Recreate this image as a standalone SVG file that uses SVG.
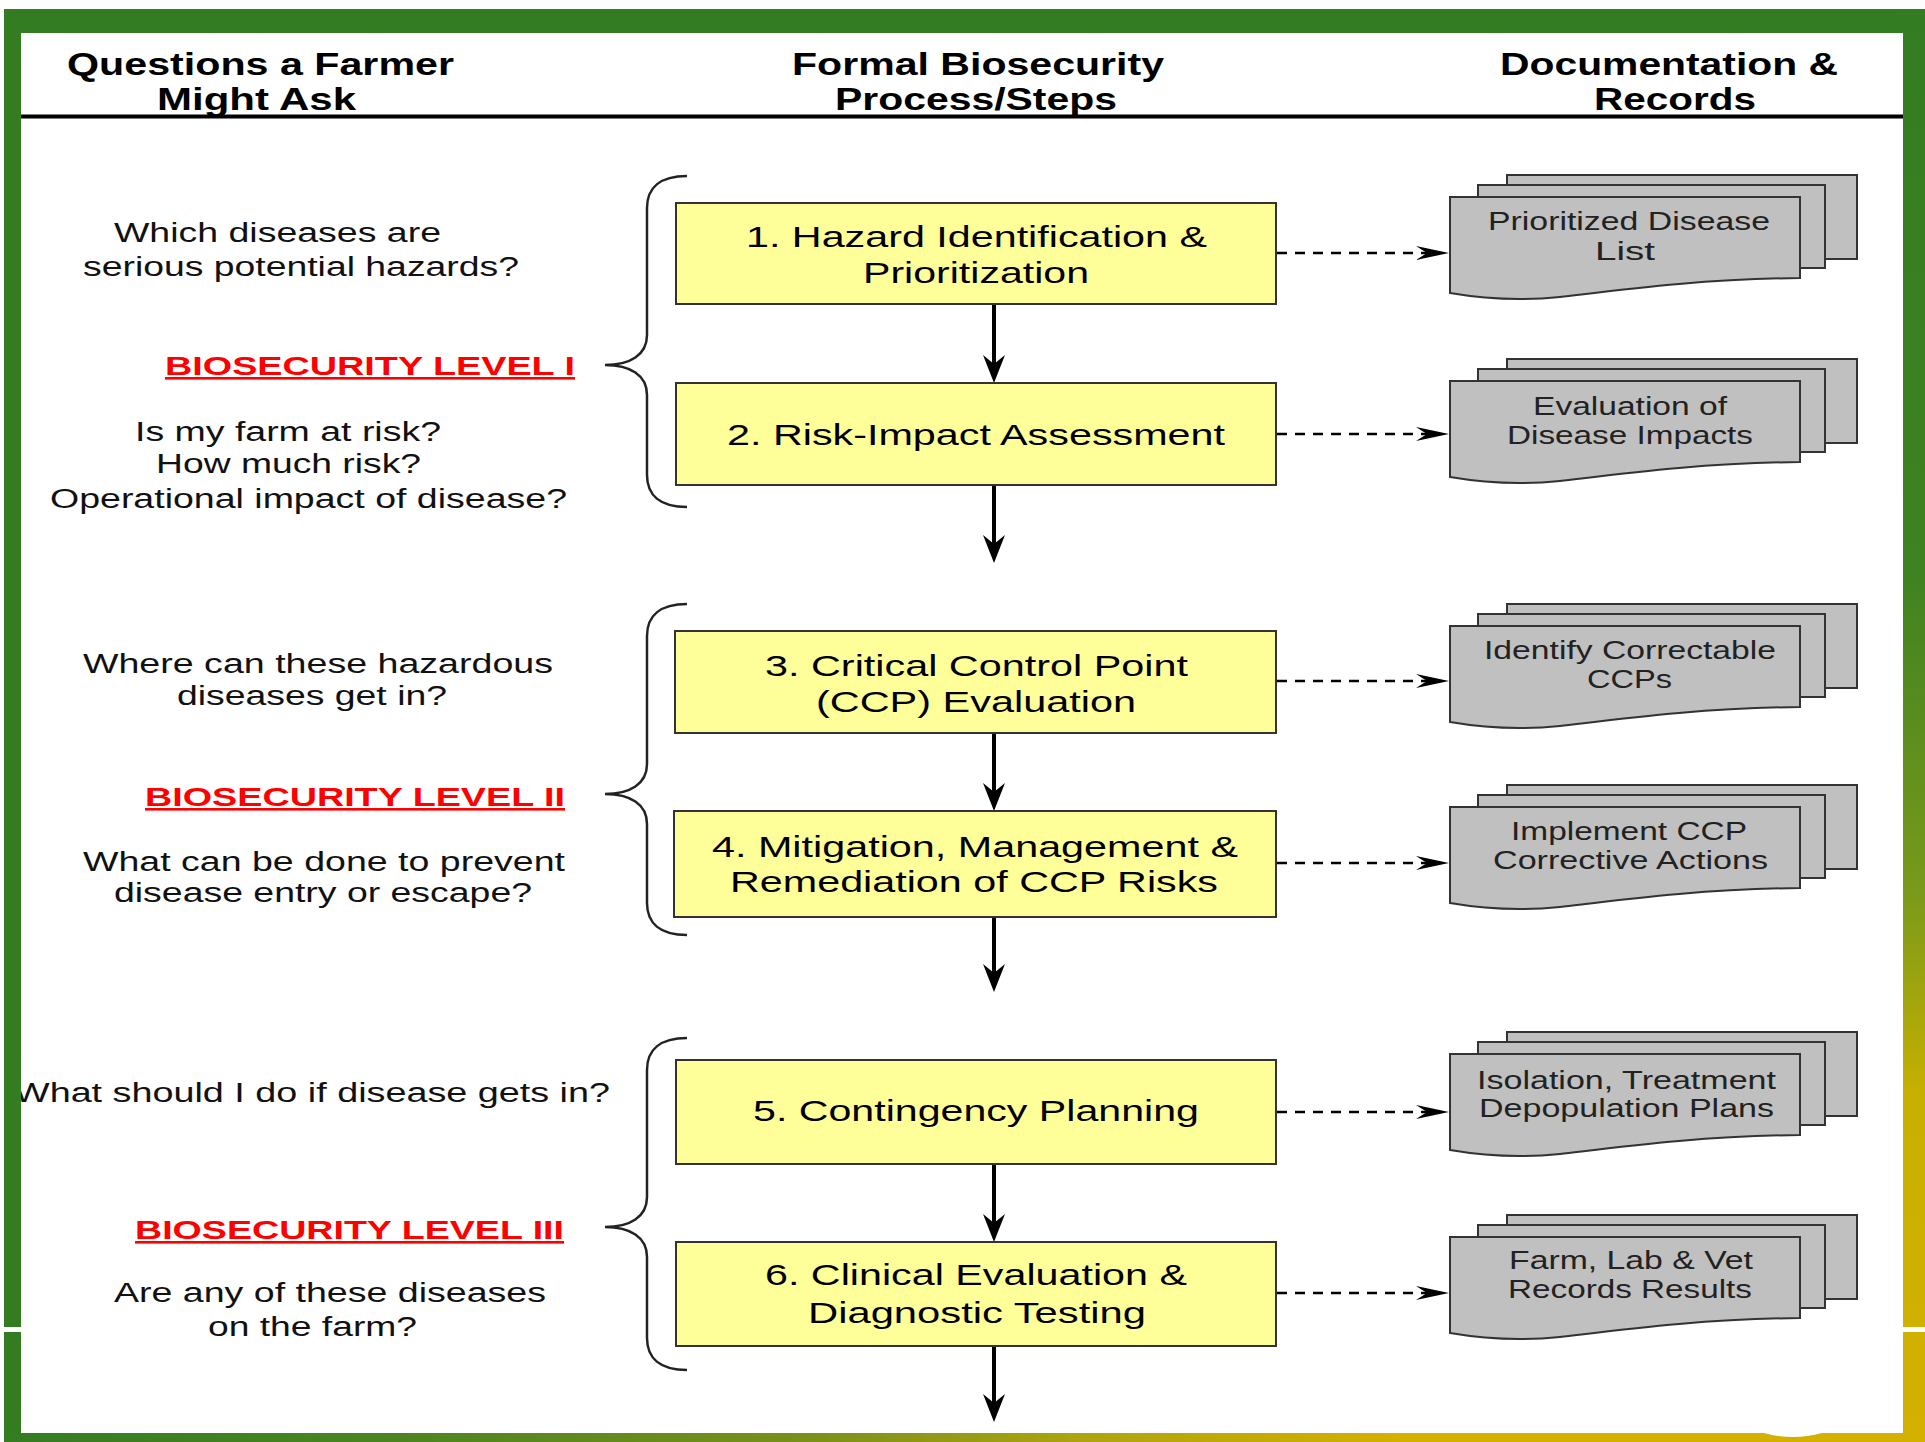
<svg xmlns="http://www.w3.org/2000/svg" width="1925" height="1442" viewBox="0 0 1925 1442">
<style>
text{font-family:"Liberation Sans",Arial,Helvetica,sans-serif}
.hdr{font-weight:bold;font-size:31px;fill:#000}
.box{fill:#ffff99;stroke:#333;stroke-width:2}
.bt{font-size:30px;fill:#000}
.q{font-size:27px;fill:#111}
.lvl{font-weight:bold;font-size:26px;fill:#ff0000;text-decoration:underline}
.doc{fill:#c0c0c0;stroke:#333;stroke-width:2}
.dt{font-size:25px;fill:#222}
.brace{fill:none;stroke:#222;stroke-width:2.5}
.solid{stroke:#000;stroke-width:4;fill:none}
.dash{stroke:#000;stroke-width:2.5;stroke-dasharray:10 8;fill:none}
</style>
<defs>
<marker id="ah" viewBox="0 0 28 22" refX="18" refY="11" markerWidth="28" markerHeight="22" markerUnits="userSpaceOnUse" orient="auto">
<path d="M0,0 L28,11 L0,22 L9,11 Z" fill="#000"/>
</marker>
<marker id="dh" viewBox="0 0 33 14" refX="11" refY="7" markerWidth="33" markerHeight="14" markerUnits="userSpaceOnUse" orient="auto">
<path d="M0,0 L33,7 L0,14 L11,7 Z" fill="#000"/>
</marker>
<linearGradient id="gR" gradientUnits="userSpaceOnUse" x1="0" y1="0" x2="0" y2="1442">
<stop offset="0" stop-color="#347c22"/>
<stop offset="0.4" stop-color="#3f8221"/>
<stop offset="0.62" stop-color="#7a9a1a"/>
<stop offset="0.76" stop-color="#c8b000"/>
<stop offset="1" stop-color="#d4b000"/>
</linearGradient>
<linearGradient id="gB" gradientUnits="userSpaceOnUse" x1="0" y1="0" x2="1925" y2="0">
<stop offset="0" stop-color="#347c22"/>
<stop offset="0.2" stop-color="#4a8420"/>
<stop offset="0.42" stop-color="#7a901a"/>
<stop offset="0.57" stop-color="#b0a50e"/>
<stop offset="0.73" stop-color="#d4b000"/>
<stop offset="1" stop-color="#d4b000"/>
</linearGradient>
</defs>
<rect x="0" y="0" width="1925" height="1442" fill="#fff"/>

<g id="header">
<text class="hdr" x="67" y="75" textLength="387" lengthAdjust="spacingAndGlyphs">Questions a Farmer</text>
<text class="hdr" x="157" y="110" textLength="199" lengthAdjust="spacingAndGlyphs">Might Ask</text>
<text class="hdr" x="792" y="75" textLength="372" lengthAdjust="spacingAndGlyphs">Formal Biosecurity</text>
<text class="hdr" x="835" y="110" textLength="282" lengthAdjust="spacingAndGlyphs">Process/Steps</text>
<text class="hdr" x="1500" y="75" textLength="338" lengthAdjust="spacingAndGlyphs">Documentation &amp;</text>
<text class="hdr" x="1594" y="110" textLength="162" lengthAdjust="spacingAndGlyphs">Records</text>
<rect x="21" y="114.5" width="1882" height="4" fill="#000"/>
</g>

<g id="questions">
<text class="q" x="114" y="242" textLength="327" lengthAdjust="spacingAndGlyphs">Which diseases are</text>
<text class="q" x="83" y="276" textLength="436" lengthAdjust="spacingAndGlyphs">serious potential hazards?</text>
<text class="lvl" x="165" y="375" textLength="410" lengthAdjust="spacingAndGlyphs">BIOSECURITY LEVEL I</text>
<text class="q" x="135" y="441" textLength="306" lengthAdjust="spacingAndGlyphs">Is my farm at risk?</text>
<text class="q" x="156" y="473" textLength="265" lengthAdjust="spacingAndGlyphs">How much risk?</text>
<text class="q" x="50" y="508" textLength="517" lengthAdjust="spacingAndGlyphs">Operational impact of disease?</text>
<text class="q" x="83" y="673" textLength="470" lengthAdjust="spacingAndGlyphs">Where can these hazardous</text>
<text class="q" x="177" y="705" textLength="270" lengthAdjust="spacingAndGlyphs">diseases get in?</text>
<text class="lvl" x="145" y="806" textLength="420" lengthAdjust="spacingAndGlyphs">BIOSECURITY LEVEL II</text>
<text class="q" x="83" y="871" textLength="482" lengthAdjust="spacingAndGlyphs">What can be done to prevent</text>
<text class="q" x="114" y="902" textLength="418" lengthAdjust="spacingAndGlyphs">disease entry or escape?</text>
<text class="q" x="14" y="1102" textLength="596" lengthAdjust="spacingAndGlyphs">What should I do if disease gets in?</text>
<text class="lvl" x="135" y="1239" textLength="429" lengthAdjust="spacingAndGlyphs">BIOSECURITY LEVEL III</text>
<text class="q" x="114" y="1302" textLength="432" lengthAdjust="spacingAndGlyphs">Are any of these diseases</text>
<text class="q" x="208" y="1336" textLength="209" lengthAdjust="spacingAndGlyphs">on the farm?</text>
</g>

<g id="braces">
<path class="brace" d="M687,176 C660,176 647,188 647,208 L647,335 C647,355 630,365 605,365 C630,365 647,375 647,395 L647,475 C647,495 660,507 687,507"/>
<path class="brace" d="M687,604 C660,604 647,616 647,636 L647,764 C647,784 630,794 605,794 C630,794 647,804 647,824 L647,903 C647,923 660,935 687,935"/>
<path class="brace" d="M687,1038 C660,1038 647,1050 647,1070 L647,1197 C647,1217 630,1227 605,1227 C630,1227 647,1237 647,1257 L647,1338 C647,1358 660,1370 687,1370"/>
</g>

<g id="connectors">
<line class="solid" x1="994" y1="304" x2="994" y2="373" marker-end="url(#ah)"/>
<line class="solid" x1="994" y1="485" x2="994" y2="553" marker-end="url(#ah)"/>
<line class="solid" x1="994" y1="733" x2="994" y2="801" marker-end="url(#ah)"/>
<line class="solid" x1="994" y1="917" x2="994" y2="982" marker-end="url(#ah)"/>
<line class="solid" x1="994" y1="1164" x2="994" y2="1232" marker-end="url(#ah)"/>
<line class="solid" x1="994" y1="1346" x2="994" y2="1412" marker-end="url(#ah)"/>
<line class="dash" x1="1277" y1="253" x2="1427" y2="253" marker-end="url(#dh)"/>
<line class="dash" x1="1277" y1="434" x2="1427" y2="434" marker-end="url(#dh)"/>
<line class="dash" x1="1277" y1="681" x2="1427" y2="681" marker-end="url(#dh)"/>
<line class="dash" x1="1277" y1="863" x2="1427" y2="863" marker-end="url(#dh)"/>
<line class="dash" x1="1277" y1="1112" x2="1427" y2="1112" marker-end="url(#dh)"/>
<line class="dash" x1="1277" y1="1293" x2="1427" y2="1293" marker-end="url(#dh)"/>
</g>

<g id="step1">
<rect class="box" x="676" y="203" width="600" height="101"/>
<text class="bt" x="746" y="247" textLength="461" lengthAdjust="spacingAndGlyphs">1. Hazard Identification &amp;</text>
<text class="bt" x="863" y="283" textLength="226" lengthAdjust="spacingAndGlyphs">Prioritization</text>
</g>
<g id="step2">
<rect class="box" x="676" y="383" width="600" height="102"/>
<text class="bt" x="727" y="445" textLength="498" lengthAdjust="spacingAndGlyphs">2. Risk-Impact Assessment</text>
</g>
<g id="step3">
<rect class="box" x="675" y="631" width="601" height="102"/>
<text class="bt" x="765" y="676" textLength="423" lengthAdjust="spacingAndGlyphs">3. Critical Control Point</text>
<text class="bt" x="816" y="712" textLength="320" lengthAdjust="spacingAndGlyphs">(CCP) Evaluation</text>
</g>
<g id="step4">
<rect class="box" x="674" y="811" width="602" height="106"/>
<text class="bt" x="712" y="857" textLength="526" lengthAdjust="spacingAndGlyphs">4. Mitigation, Management &amp;</text>
<text class="bt" x="730" y="892" textLength="488" lengthAdjust="spacingAndGlyphs">Remediation of CCP Risks</text>
</g>
<g id="step5">
<rect class="box" x="676" y="1060" width="600" height="104"/>
<text class="bt" x="753" y="1121" textLength="446" lengthAdjust="spacingAndGlyphs">5. Contingency Planning</text>
</g>
<g id="step6">
<rect class="box" x="676" y="1242" width="600" height="104"/>
<text class="bt" x="765" y="1285" textLength="422" lengthAdjust="spacingAndGlyphs">6. Clinical Evaluation &amp;</text>
<text class="bt" x="808" y="1323" textLength="338" lengthAdjust="spacingAndGlyphs">Diagnostic Testing</text>
</g>

<g id="doc1">
<rect class="doc" x="1507" y="175" width="350" height="84"/>
<rect class="doc" x="1478" y="185" width="347" height="83"/>
<path class="doc" d="M1450,197 L1800,197 L1800,278 C1700,279 1620,290 1560,297 C1520,301 1485,299 1450,293 Z"/>
<text class="dt" x="1488" y="230" textLength="282" lengthAdjust="spacingAndGlyphs">Prioritized Disease</text>
<text class="dt" x="1595" y="260" textLength="60" lengthAdjust="spacingAndGlyphs">List</text>
</g>
<g id="doc2">
<rect class="doc" x="1507" y="359" width="350" height="84"/>
<rect class="doc" x="1478" y="369" width="347" height="83"/>
<path class="doc" d="M1450,381 L1800,381 L1800,462 C1700,463 1620,474 1560,481 C1520,485 1485,483 1450,477 Z"/>
<text class="dt" x="1533" y="415" textLength="194" lengthAdjust="spacingAndGlyphs">Evaluation of</text>
<text class="dt" x="1507" y="444" textLength="246" lengthAdjust="spacingAndGlyphs">Disease Impacts</text>
</g>
<g id="doc3">
<rect class="doc" x="1507" y="604" width="350" height="84"/>
<rect class="doc" x="1478" y="614" width="347" height="83"/>
<path class="doc" d="M1450,626 L1800,626 L1800,707 C1700,708 1620,719 1560,726 C1520,730 1485,728 1450,722 Z"/>
<text class="dt" x="1484" y="659" textLength="292" lengthAdjust="spacingAndGlyphs">Identify Correctable</text>
<text class="dt" x="1587" y="688" textLength="85" lengthAdjust="spacingAndGlyphs">CCPs</text>
</g>
<g id="doc4">
<rect class="doc" x="1507" y="785" width="350" height="84"/>
<rect class="doc" x="1478" y="795" width="347" height="83"/>
<path class="doc" d="M1450,807 L1800,807 L1800,888 C1700,889 1620,900 1560,907 C1520,911 1485,909 1450,903 Z"/>
<text class="dt" x="1511" y="840" textLength="236" lengthAdjust="spacingAndGlyphs">Implement CCP</text>
<text class="dt" x="1493" y="869" textLength="275" lengthAdjust="spacingAndGlyphs">Corrective Actions</text>
</g>
<g id="doc5">
<rect class="doc" x="1507" y="1032" width="350" height="84"/>
<rect class="doc" x="1478" y="1042" width="347" height="83"/>
<path class="doc" d="M1450,1054 L1800,1054 L1800,1135 C1700,1136 1620,1147 1560,1154 C1520,1158 1485,1156 1450,1150 Z"/>
<text class="dt" x="1477" y="1089" textLength="299" lengthAdjust="spacingAndGlyphs">Isolation, Treatment</text>
<text class="dt" x="1479" y="1117" textLength="295" lengthAdjust="spacingAndGlyphs">Depopulation Plans</text>
</g>
<g id="doc6">
<rect class="doc" x="1507" y="1215" width="350" height="84"/>
<rect class="doc" x="1478" y="1225" width="347" height="83"/>
<path class="doc" d="M1450,1237 L1800,1237 L1800,1318 C1700,1319 1620,1330 1560,1337 C1520,1341 1485,1339 1450,1333 Z"/>
<text class="dt" x="1509" y="1269" textLength="244" lengthAdjust="spacingAndGlyphs">Farm, Lab &amp; Vet</text>
<text class="dt" x="1508" y="1298" textLength="244" lengthAdjust="spacingAndGlyphs">Records Results</text>
</g>

<g id="frame">
<rect x="4" y="9" width="1921" height="24" fill="#347c22"/>
<rect x="4" y="9" width="17" height="1433" fill="#347c22"/>
<rect x="1903" y="9" width="22" height="1433" fill="url(#gR)"/>
<rect x="4" y="1433" width="1921" height="9" fill="url(#gB)"/>
<rect x="4" y="1327" width="17" height="5" fill="#fff"/>
<rect x="1903" y="1327" width="22" height="5" fill="#fff"/>
<path d="M1764,1433 Q1793,1441 1822,1433 Z" fill="#fff"/>
</g>
</svg>
